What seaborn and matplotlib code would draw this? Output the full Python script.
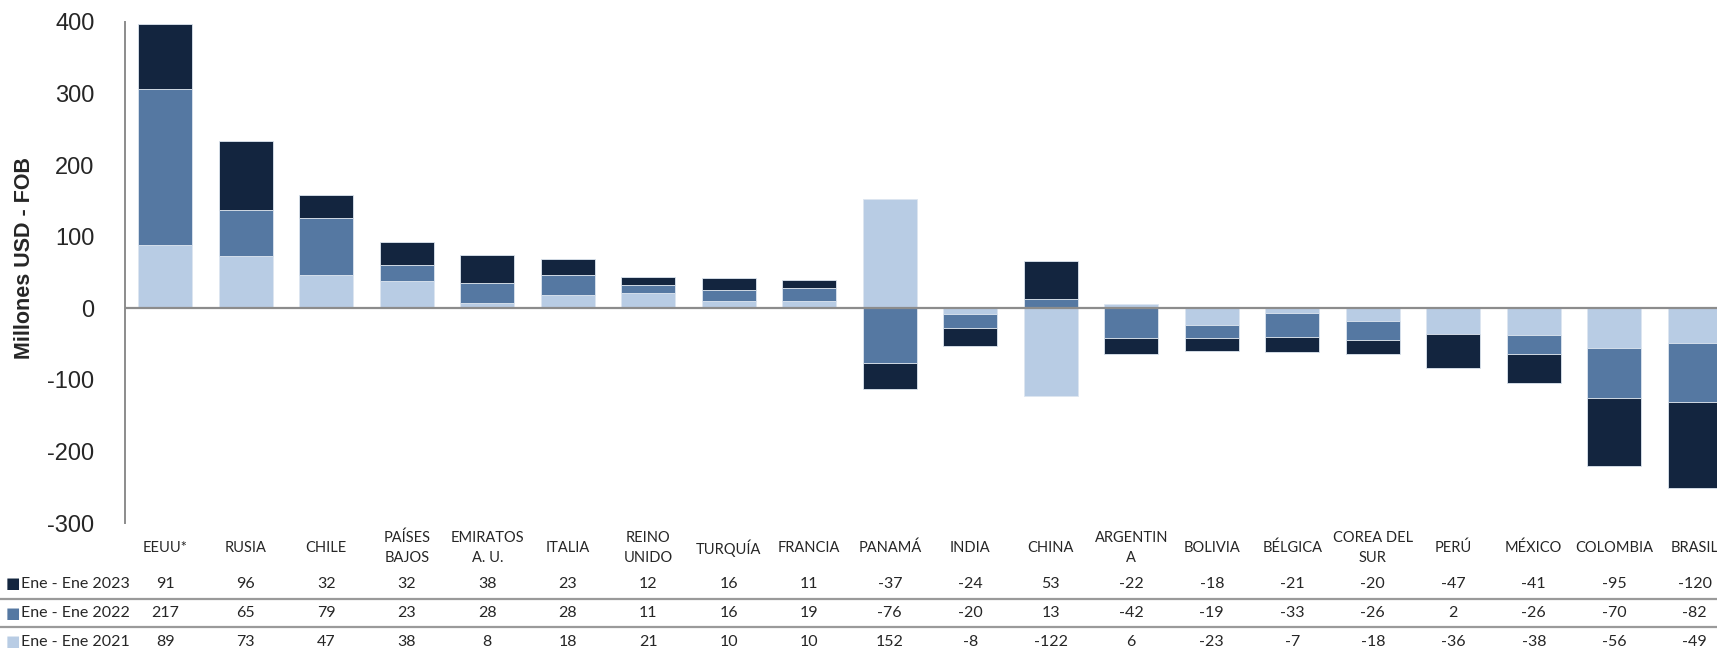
import seaborn as sns
import numpy as np
import matplotlib.pyplot as plt
import matplotlib.transforms as mtransforms

# datos (millones USD - FOB)
paises = ['EEUU*', 'RUSIA', 'CHILE', 'PAÍSES\nBAJOS', 'EMIRATOS\nA. U.', 'ITALIA',
          'REINO\nUNIDO', 'TURQUÍA', 'FRANCIA', 'PANAMÁ', 'INDIA', 'CHINA',
          'ARGENTIN\nA', 'BOLIVIA', 'BÉLGICA', 'COREA DEL\nSUR', 'PERÚ', 'MÉXICO',
          'COLOMBIA', 'BRASIL']
ene_2023 = [91, 96, 32, 32, 38, 23, 12, 16, 11, -37, -24, 53, -22, -18, -21, -20, -47, -41, -95, -120]
ene_2022 = [217, 65, 79, 23, 28, 28, 11, 16, 19, -76, -20, 13, -42, -19, -33, -26, 2, -26, -70, -82]
ene_2021 = [89, 73, 47, 38, 8, 18, 21, 10, 10, 152, -8, -122, 6, -23, -7, -18, -36, -38, -56, -49]

series = [('Ene - Ene 2021', ene_2021, '#B8CCE4'),
          ('Ene - Ene 2022', ene_2022, '#5578A2'),
          ('Ene - Ene 2023', ene_2023, '#13253F')]

sns.set_style('white')
plt.rcParams['font.family'] = ['Lato', 'DejaVu Sans']

W, H = 1717, 648
fig = plt.figure(figsize=(W / 100, H / 100), dpi=100)
ax = fig.add_axes([125 / W, 1 - 523 / H, 1610 / W, 501 / H])

x = np.arange(len(paises))
pos_base = np.zeros(len(paises))
neg_base = np.zeros(len(paises))
for nombre, vals, color in series:
    v = np.array(vals, dtype=float)
    bottom = np.where(v >= 0, pos_base, neg_base)
    ax.bar(x, v, width=0.67, bottom=bottom, color=color, edgecolor='#dde6f0', linewidth=0.6, zorder=2)
    pos_base += np.where(v >= 0, v, 0)
    neg_base += np.where(v < 0, v, 0)

ax.set_xlim(-0.5, len(paises) - 0.5)
ax.set_ylim(-300, 400)
ax.set_yticks(range(-300, 401, 100))
ax.set_yticklabels([str(t) for t in range(-300, 401, 100)], fontsize=17,
                   family=['Liberation Sans', 'DejaVu Sans'])
ax.tick_params(axis='y', length=0, pad=22)
ax.set_xticks([])
ax.axhline(0, color='#8c8c8c', lw=1.6, zorder=3)
for s in ['top', 'right', 'bottom']:
    ax.spines[s].set_visible(False)
ax.spines['left'].set_color('#8c8c8c')
ax.spines['left'].set_linewidth(1.4)

fig.text(25 / W, 1 - 258 / H, 'Millones USD - FOB', rotation=90, fontsize=15.5,
         fontweight='bold', ha='center', va='center', family=['Liberation Sans', 'DejaVu Sans'])

# tabla inferior
trans = mtransforms.blended_transform_factory(ax.transData, fig.transFigure)
for i, p in enumerate(paises):
    ax.text(i, 1 - 548 / H, p, transform=trans, ha='center', va='center',
            fontsize=10.5, linespacing=1.5)

filas = [('Ene - Ene 2023', ene_2023, '#13253F', 584),
         ('Ene - Ene 2022', ene_2022, '#5578A2', 613),
         ('Ene - Ene 2021', ene_2021, '#B8CCE4', 642)]
for nombre, vals, color, ypx in filas:
    yf = 1 - ypx / H
    fig.text(6 / W, yf, '■', color=color, fontsize=11, va='center', ha='left',
             family=['DejaVu Sans'])
    fig.text(21 / W, yf, nombre, fontsize=11.5, va='center', ha='left')
    for i, v in enumerate(vals):
        ax.text(i, yf, str(v), transform=trans, ha='center', va='center', fontsize=11.5)

for ypx in [599, 627]:
    fig.add_artist(plt.Line2D([0, 1], [1 - ypx / H, 1 - ypx / H], transform=fig.transFigure,
                              color='#9a9a9a', lw=1.6))

fig.savefig('out.png', dpi=100)
